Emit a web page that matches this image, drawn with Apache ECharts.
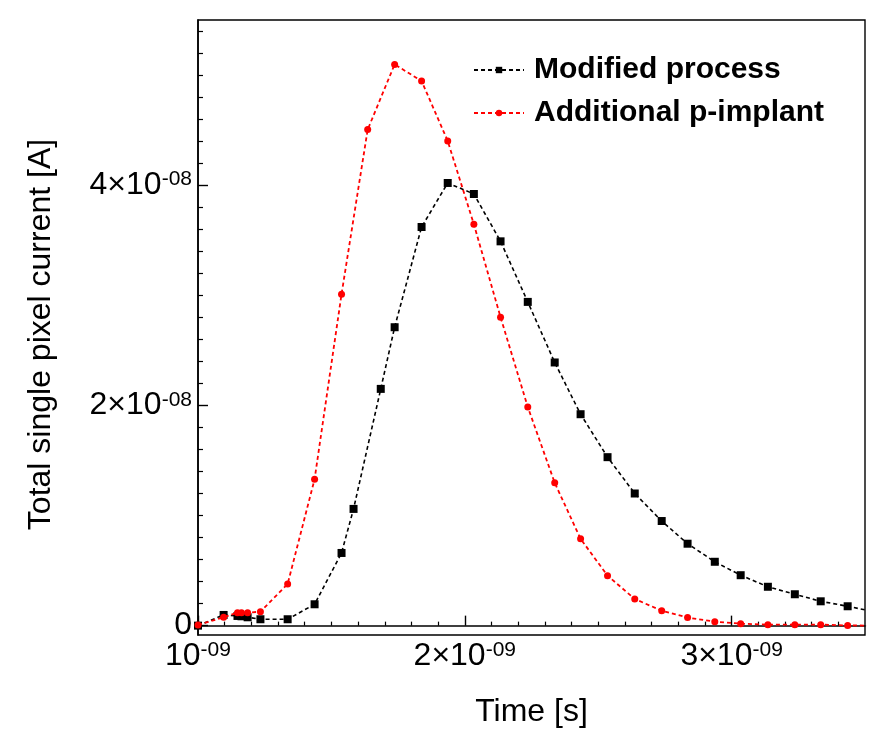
<!DOCTYPE html>
<html>
<head>
<meta charset="utf-8">
<script src="https://cdn.jsdelivr.net/npm/echarts@6/dist/echarts.min.js"></script>
<style>
  html, body { margin: 0; padding: 0; background: #fff; }
  #chart { width: 885px; height: 755px; }
</style>
</head>
<body>
<div id="chart"></div>
<script>
  // 时间单位 ns (x1e-9 s)，电流单位 x1e-8 A
  var timeModified = [1.000, 1.096, 1.148, 1.163, 1.186, 1.234, 1.336, 1.437, 1.538, 1.583, 1.685, 1.737, 1.838, 1.936, 2.034, 2.134, 2.236, 2.337, 2.434, 2.535, 2.637, 2.738, 2.835, 2.937, 3.034, 3.136, 3.237, 3.334, 3.435, 3.535];
  var currentModified = [0.000, 0.097, 0.088, 0.085, 0.076, 0.058, 0.058, 0.194, 0.660, 1.060, 2.150, 2.710, 3.620, 4.020, 3.920, 3.490, 2.940, 2.390, 1.920, 1.530, 1.200, 0.950, 0.744, 0.580, 0.458, 0.353, 0.285, 0.221, 0.176, 0.125];

  var timeImplant = [1.000, 1.096, 1.148, 1.163, 1.186, 1.234, 1.336, 1.437, 1.538, 1.636, 1.737, 1.838, 1.936, 2.034, 2.134, 2.236, 2.337, 2.434, 2.535, 2.637, 2.738, 2.835, 2.937, 3.034, 3.136, 3.237, 3.334, 3.435, 3.535];
  var currentImplant = [0.006, 0.076, 0.118, 0.118, 0.118, 0.127, 0.378, 1.330, 3.010, 4.505, 5.097, 4.946, 4.401, 3.645, 2.801, 1.986, 1.297, 0.788, 0.454, 0.242, 0.136, 0.073, 0.036, 0.018, 0.009, 0.009, 0.009, 0.002, 0.000];

  var seriesNames = ['Modified process', 'Additional p-implant'];
  var xTicks = [1, 2, 3];
  var yTicks = [0, 2, 4];

  var App = {};

  App.init = function(){
    var _this = this;

    var pairs = function(xs, ys){
      return xs.map(function(x, i){ return [x, ys[i]]; });
    };

    // 次刻度 x 每 0.1，y 每 0.2
    var xMinor = [], yMinor = [];
    for (var i = 1; i < 25; i++) if (i % 10) xMinor.push(+(1 + i * 0.1).toFixed(2));
    for (var j = 1; j < 28; j++) if (j % 10) yMinor.push(+(j * 0.2).toFixed(2));

    var font = 'Liberation Sans';
    var rich = {
      m: { fontFamily: font, fontSize: 32, lineHeight: 32, color: '#000' },
      s: { fontFamily: font, fontSize: 21, lineHeight: 17, color: '#000', verticalAlign: 'top' }
    };

    var fmtX = function(v){
      return v === 1 ? '{m|10}{s|-09}' : '{m|' + v + '×10}{s|-09}';
    };
    var fmtY = function(v){
      return v === 0 ? '{m|0}' : '{m|' + v + '×10}{s|-08}';
    };

    _this.F_loadChart = function(){
      var chart = echarts.init(document.getElementById('chart'), null, { renderer: 'canvas' });

      var axisLine = { show: true, lineStyle: { color: '#000', width: 1.6 } };

      var option = {
        backgroundColor: '#fff',
        animation: false,
        grid: { left: 198, right: 20, top: 20, bottom: 120, show: true, borderColor: '#000', borderWidth: 1.4, backgroundColor: 'transparent' },
        legend: {
          orient: 'vertical', left: 473, top: 55, padding: 0,
          itemWidth: 50, itemHeight: 8, itemGap: 13,
          textStyle: { fontFamily: font, fontWeight: 'bold', fontSize: 30, lineHeight: 30, color: '#000', padding: [0, 0, 0, 5] },
          data: seriesNames
        },
        xAxis: [{
          type: 'value', min: 1, max: 3.5,
          name: 'Time [s]', nameLocation: 'middle', nameGap: 61,
          nameTextStyle: { fontFamily: font, fontSize: 32, color: '#000' },
          axisLine: axisLine,
          axisTick: { show: true, inside: true, length: 10, lineStyle: { color: '#000', width: 1.4 }, customValues: xTicks },
          axisLabel: { margin: 5, customValues: xTicks, formatter: fmtX, rich: rich },
          splitLine: { show: false }
        }, {
          type: 'value', min: 1, max: 3.5, position: 'bottom',
          axisLine: { show: false },
          axisTick: { show: true, inside: true, length: 4, lineStyle: { color: '#000', width: 1.2 }, customValues: xMinor },
          axisLabel: { show: false },
          splitLine: { show: false }
        }],
        yAxis: [{
          type: 'value', min: -0.085, max: 5.5,
          name: 'Total single pixel current [A]', nameLocation: 'middle', nameGap: 141,
          nameTextStyle: { fontFamily: font, fontSize: 32, color: '#000', padding: [0, 14, 0, 0] },
          axisLine: axisLine,
          axisTick: { show: true, inside: true, length: 10, lineStyle: { color: '#000', width: 1.4 }, customValues: yTicks },
          axisLabel: { margin: 6, customValues: yTicks, formatter: fmtY, rich: rich },
          splitLine: { show: false }
        }, {
          type: 'value', min: -0.085, max: 5.5, position: 'left',
          axisLine: { show: false },
          axisTick: { show: true, inside: true, length: 5, lineStyle: { color: '#000', width: 1.2 }, customValues: yMinor },
          axisLabel: { show: false },
          splitLine: { show: false }
        }],
        series: [{
          name: seriesNames[0], type: 'line',
          data: pairs(timeModified, currentModified),
          symbol: 'rect', symbolSize: 8,
          itemStyle: { color: '#000' },
          lineStyle: { color: '#000', width: 1.6, type: [4, 3] },
          z: 3
        }, {
          name: seriesNames[1], type: 'line',
          data: pairs(timeImplant, currentImplant),
          symbol: 'circle', symbolSize: 7,
          itemStyle: { color: '#ff0000' },
          lineStyle: { color: '#ff0000', width: 1.8, type: [4, 3] },
          z: 4
        }]
      };

      chart.setOption(option);
    };

    _this.F_loadChart();
  };

  App.init();
</script>
</body>
</html>
